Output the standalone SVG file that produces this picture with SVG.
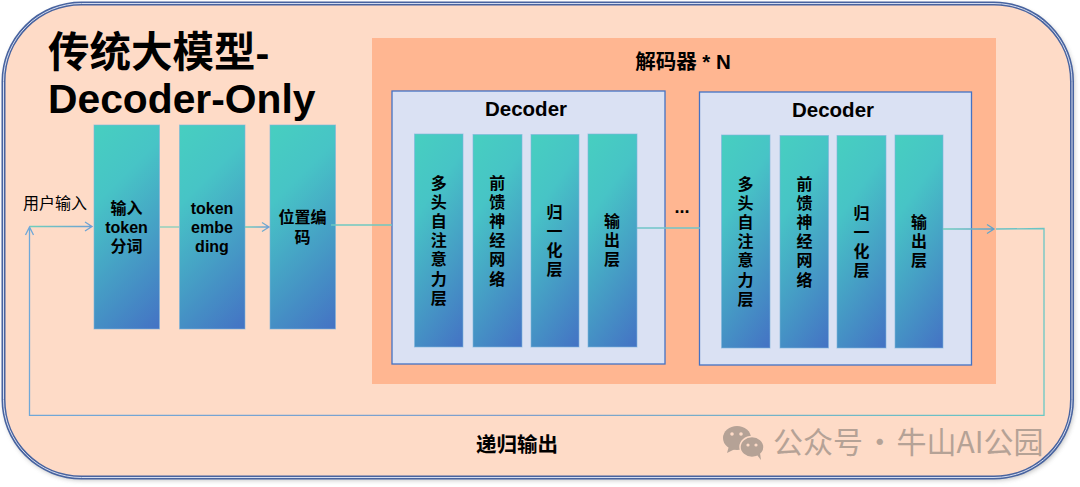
<svg xmlns="http://www.w3.org/2000/svg" width="1080" height="487" viewBox="0 0 1080 487">
<style>
.cn{font-family:"Liberation Sans","Noto Sans CJK SC",sans-serif;fill:#000;text-anchor:middle}
.b{font-weight:700}
.lb{font-size:16px;font-weight:700}
.bar{fill:url(#bg);stroke:#7fb4dc;stroke-opacity:.6;stroke-width:1}
.dec{fill:#dae1f3;stroke:#4472c4;stroke-width:1.300}
.ln{fill:none;stroke-width:1.300}
.wm{font-family:"Noto Sans CJK SC",sans-serif;font-size:30px;fill:#b5a296;text-anchor:start;word-spacing:-5px}
</style>
<defs>
<linearGradient id="bg" x1="0" y1="0" x2=".383" y2="1.197"><stop offset="0" stop-color="#47cfc0"/><stop offset=".3" stop-color="#47c4c6"/><stop offset="1" stop-color="#4472c4"/></linearGradient>
<linearGradient id="c1" gradientUnits="userSpaceOnUse" x1="30" y1="0" x2="92" y2="0"><stop offset="0" stop-color="#6fd0bc"/><stop offset="1" stop-color="#6f9fd4"/></linearGradient>
<linearGradient id="c2" gradientUnits="userSpaceOnUse" x1="245" y1="0" x2="269" y2="0"><stop offset="0" stop-color="#6fd0bc"/><stop offset="1" stop-color="#6f9fd4"/></linearGradient>
<linearGradient id="c3" gradientUnits="userSpaceOnUse" x1="943" y1="0" x2="996" y2="0"><stop offset="0" stop-color="#6fd0bc"/><stop offset="1" stop-color="#5f9fcc"/></linearGradient>
<linearGradient id="c4" gradientUnits="userSpaceOnUse" x1="30" y1="226" x2="1044" y2="415"><stop offset="0" stop-color="#6fa8d8"/><stop offset=".5" stop-color="#7f9fcc"/><stop offset="1" stop-color="#68c8c4"/></linearGradient>
<filter id="sh" x="-5%" y="-5%" width="110%" height="110%"><feGaussianBlur stdDeviation="2.500"/></filter>
</defs>
<rect x="4" y="5" width="1070" height="475" rx="78" fill="#555" opacity=".4" filter="url(#sh)"/>
<g id="frame">
<rect x="3.500" y="3.500" width="1068.500" height="474" rx="78" fill="#fedbc7" stroke="#48639f" stroke-width="4"/>
<rect x="3.500" y="3.500" width="1068.500" height="474" rx="78" fill="none" stroke="#d5dcef" stroke-width="1"/>
</g>
<g id="title"><text class="cn b" x="48" y="67" font-size="41.500" style="text-anchor:start">传统大模型-</text><text class="cn b" x="48" y="113" font-size="40.800" style="text-anchor:start">Decoder-Only</text></g>
<g id="decoder-stack">
<rect x="372" y="38" width="624" height="346" fill="#ffb691"/>
<text class="cn b" x="683" y="69" font-size="20.500">解码器 * N</text>
<text class="cn b" x="682" y="213" font-size="18">...</text>
</g>
<g id="input-label"><text class="cn" x="55" y="209" font-size="16">用户输入</text></g>
<g id="n-tokenize"><rect class="bar" x="94" y="125" width="65.500" height="204"/><text class="cn lb"><tspan x="126.500" y="214">输入</tspan><tspan x="126.500" y="232.500">token</tspan><tspan x="126.500" y="252">分词</tspan></text></g>
<g id="n-embedding"><rect class="bar" x="179.500" y="125" width="65.500" height="204"/><text class="cn lb"><tspan x="212" y="213.500">token</tspan><tspan x="212" y="232.500">embe</tspan><tspan x="212" y="252">ding</tspan></text></g>
<g id="n-position"><rect class="bar" x="270" y="125" width="65.500" height="204"/><text class="cn lb"><tspan x="302.500" y="223">位置编</tspan><tspan x="302.500" y="242.500">码</tspan></text></g>
<g id="decoder-1">
<rect class="dec" x="392" y="91" width="273" height="273"/>
<text class="cn b" x="526" y="115.500" font-size="20.500">Decoder</text>
<rect class="bar" x="414.500" y="134" width="48.500" height="213"/><text class="cn lb"><tspan x="438.700" y="188.500">多</tspan><tspan x="438.700" dy="19.200">头</tspan><tspan x="438.700" dy="19.200">自</tspan><tspan x="438.700" dy="19.200">注</tspan><tspan x="438.700" dy="19.200">意</tspan><tspan x="438.700" dy="19.200">力</tspan><tspan x="438.700" dy="19.200">层</tspan></text>
<rect class="bar" x="473" y="134.500" width="49" height="212.500"/><text class="cn lb"><tspan x="497.300" y="188.500">前</tspan><tspan x="497.300" dy="19.200">馈</tspan><tspan x="497.300" dy="19.200">神</tspan><tspan x="497.300" dy="19.200">经</tspan><tspan x="497.300" dy="19.200">网</tspan><tspan x="497.300" dy="19.200">络</tspan></text>
<rect class="bar" x="531" y="134.500" width="48" height="212.500"/><text class="cn lb"><tspan x="554.500" y="217.500">归</tspan><tspan x="554.500" dy="19.200">一</tspan><tspan x="554.500" dy="19.200">化</tspan><tspan x="554.500" dy="19.200">层</tspan></text>
<rect class="bar" x="588" y="134" width="49" height="213"/><text class="cn lb"><tspan x="612" y="226.500">输</tspan><tspan x="612" dy="19.200">出</tspan><tspan x="612" dy="19.200">层</tspan></text>
</g>
<g id="decoder-2">
<rect class="dec" x="699.500" y="92" width="272" height="273"/>
<text class="cn b" x="833" y="116.500" font-size="20.500">Decoder</text>
<rect class="bar" x="721.500" y="135" width="48.500" height="213"/><text class="cn lb"><tspan x="745.500" y="189.500">多</tspan><tspan x="745.500" dy="19.200">头</tspan><tspan x="745.500" dy="19.200">自</tspan><tspan x="745.500" dy="19.200">注</tspan><tspan x="745.500" dy="19.200">意</tspan><tspan x="745.500" dy="19.200">力</tspan><tspan x="745.500" dy="19.200">层</tspan></text>
<rect class="bar" x="780" y="135.500" width="48.500" height="212.500"/><text class="cn lb"><tspan x="804.500" y="189.500">前</tspan><tspan x="804.500" dy="19.200">馈</tspan><tspan x="804.500" dy="19.200">神</tspan><tspan x="804.500" dy="19.200">经</tspan><tspan x="804.500" dy="19.200">网</tspan><tspan x="804.500" dy="19.200">络</tspan></text>
<rect class="bar" x="837" y="135.500" width="49" height="212.500"/><text class="cn lb"><tspan x="861.500" y="218.500">归</tspan><tspan x="861.500" dy="19.200">一</tspan><tspan x="861.500" dy="19.200">化</tspan><tspan x="861.500" dy="19.200">层</tspan></text>
<rect class="bar" x="895" y="135" width="48" height="213"/><text class="cn lb"><tspan x="919" y="227.500">输</tspan><tspan x="919" dy="19.200">出</tspan><tspan x="919" dy="19.200">层</tspan></text>
</g>
<g id="connectors">
<path class="ln" stroke="url(#c1)" d="M30 226.500H92M85 222l7 4.500-7 4.500"/>
<path class="ln" stroke="#80d0bc" d="M160 227H179"/>
<path class="ln" stroke="url(#c2)" d="M245 227H269M262 222.500l7 4.500-7 4.500"/>
<path class="ln" stroke="#6fc8c0" d="M331 225H392"/>
<path class="ln" stroke="#6fc4c8" d="M637 228H700"/>
<path class="ln" stroke="url(#c3)" d="M943 229H994M987 224.500l7 4.500-7 4.500"/>
<path class="ln" stroke="url(#c4)" d="M996 229L1044 228.500V415.300H29.500V227M25.500 235l4-8 4 8"/>
</g>
<g id="feedback-label"><text class="cn b" x="517" y="452" font-size="20.500">递归输出</text></g>
<g id="watermark">
<ellipse cx="737" cy="438" rx="14" ry="12" fill="#b5a296"/><path d="M729 446l-2 7 8-4z" fill="#b5a296"/>
<circle cx="732" cy="434" r="1.800" fill="#fedbc7"/><circle cx="741" cy="434" r="1.800" fill="#fedbc7"/>
<ellipse cx="752" cy="447" rx="12" ry="10.500" fill="#b5a296" stroke="#fedbc7" stroke-width="1.500"/><path d="M757 455l4 5-1-7z" fill="#b5a296"/>
<circle cx="748" cy="445" r="1.600" fill="#fedbc7"/><circle cx="756" cy="445" r="1.600" fill="#fedbc7"/>
<text class="wm" x="773" y="453">公众号 · 牛山AI公园</text>
</g>
</svg>
